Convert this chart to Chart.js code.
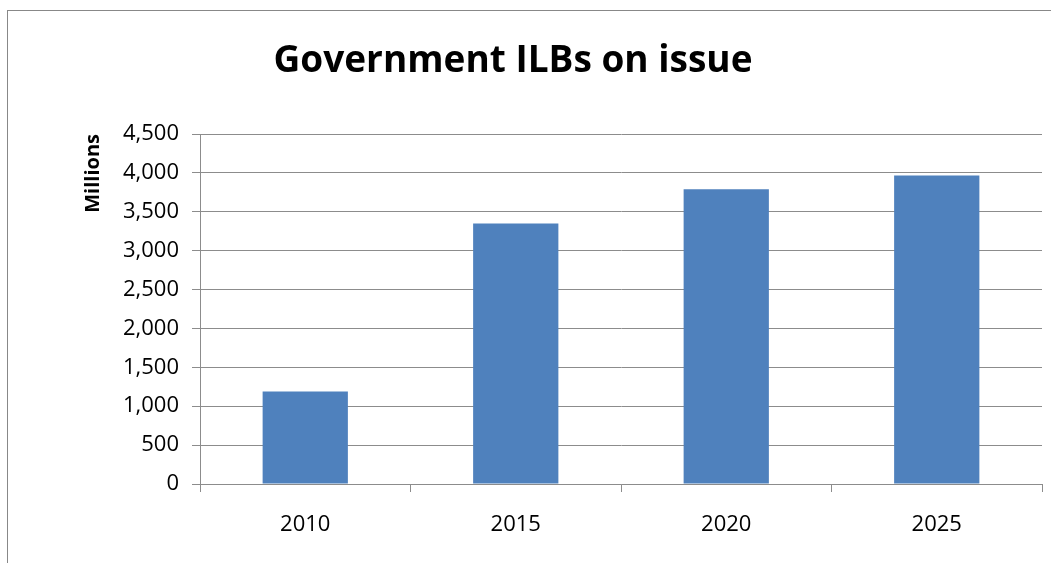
<!DOCTYPE html>
<html>
<head>
<meta charset="utf-8">
<script src="https://cdn.jsdelivr.net/npm/chart.js@4/dist/chart.umd.min.js"></script>
<style>
  html, body { margin: 0; padding: 0; background: #fff; }
  body { width: 1051px; height: 563px; position: relative; overflow: hidden; }
  #frame { position: absolute; left: 7px; top: 10px; width: 1100px; height: 600px;
           border-left: 1px solid #888; border-top: 1px solid #888; }
  #wrap { position: absolute; left: 0; top: 0; width: 1051px; height: 563px; }
</style>
</head>
<body>
<div id="frame"></div>
<div id="wrap"><canvas id="ilbChart"></canvas></div>
<script>
const years = ['2010', '2015', '2020', '2025'];
const ilbValues = [1190, 3350, 3790, 3965];
const yTicks = [0, 500, 1000, 1500, 2000, 2500, 3000, 3500, 4000, 4500];

const chartTitle = 'Government ILBs on issue';
const gridGray = '#8c8c8c';

// title drawn by hand so it can sit left of the plot centre like the original
const titlePlugin = {
    id: 'bigTitle',
    afterDraw(chart) {
        const c = chart.ctx;
        c.save();
        c.font = 'bold 37px "Open Sans"';
        c.fillStyle = '#000';
        c.textAlign = 'center';
        c.textBaseline = 'middle';
        c.fillText(chartTitle, 513, 61);
        c.restore();
    }
};

const ctx = document.getElementById('ilbChart').getContext('2d');
const ilbChart = new Chart(ctx, {
    type: 'bar',
    data: {
        labels: years,
        datasets: [{
            label: 'ILBs',
            data: ilbValues,
            backgroundColor: '#4F81BD',
            categoryPercentage: 1,
            barPercentage: 0.405
        }]
    },
    options: {
        responsive: true,
        maintainAspectRatio: false,
        animation: false,
        layout: { padding: { left: 0, right: 9, top: 134, bottom: 0 } },
        plugins: {
            legend: { display: false },
            tooltip: { enabled: false }
        },
        scales: {
            x: {
                grid: {
                    offset: true,
                    drawOnChartArea: false,
                    color: gridGray,
                    tickLength: 8
                },
                border: { color: gridGray },
                ticks: {
                    color: '#000',
                    padding: 20,
                    font: { family: '"Open Sans"', size: 22 }
                },
                afterFit(scale) { scale.height = 79; }
            },
            y: {
                min: 0,
                max: 4500,
                afterBuildTicks(scale) {
                    scale.ticks = yTicks.map(v => ({ value: v }));
                },
                grid: { color: gridGray, tickLength: 8 },
                border: { color: gridGray },
                ticks: {
                    color: '#000',
                    padding: 13,
                    font: { family: '"Open Sans"', size: 22 },
                    callback: v => v.toLocaleString('en-US')
                },
                title: {
                    display: true,
                    text: 'Millions',
                    align: 'end',
                    color: '#000',
                    padding: { top: 81, bottom: 0 },
                    font: { family: '"Open Sans"', size: 20, weight: 'bold' }
                },
                afterFit(scale) { scale.width = 200; }
            }
        }
    },
    plugins: [titlePlugin]
});
</script>
</body>
</html>
